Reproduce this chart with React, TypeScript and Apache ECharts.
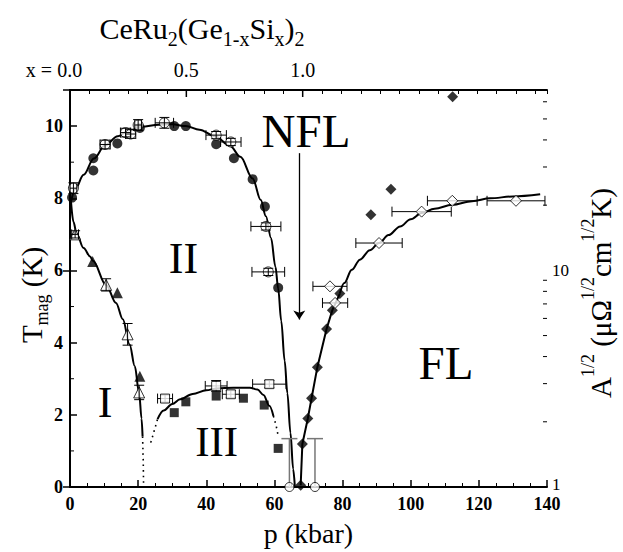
import React, { useEffect, useRef } from 'react';
import * as echarts from 'echarts';

const SERIF = 'Liberation Serif';

// ---- phase-boundary curves, [p (kbar), T (K)] ----
const curveII = [
  [0.3, 7.9], [1.5, 8.25], [4, 8.65], [7, 9.1], [10.3, 9.47], [14, 9.72], [17.5, 9.88],
  [21, 9.98], [26, 10.04], [30, 10.05], [34, 10.0], [38, 9.9], [42.5, 9.72], [47, 9.45],
  [50, 9.15], [53.6, 8.55], [56, 7.95], [57.5, 7.5], [59, 6.9], [60.3, 6.1], [61.1, 5.5],
  [62, 4.6], [63, 3.5], [63.8, 2.6], [64.7, 1.5], [65.5, 0.5], [66, 0],
];
const curveI = [
  [0.3, 7.9], [1, 7.35], [2, 7.0], [4, 6.62], [5.9, 6.39], [6.7, 6.27], [10.6, 5.6],
  [13.5, 5.1], [15.5, 4.65], [17.5, 3.95], [19, 3.35], [20.3, 2.6], [21, 1.9], [21.3, 1.4],
];
const curveIDotted = [[21.3, 1.4], [21.5, 0.7], [21.6, 0]];
const curveIII = [
  [25.7, 1.88], [27.5, 2.12], [30, 2.3], [32.3, 2.43], [36, 2.58], [40, 2.68], [43, 2.73],
  [48, 2.75], [52.8, 2.75], [55, 2.7], [56.8, 2.55], [58.5, 2.25], [59.7, 1.97],
];
const curveIIIDottedLeft = [[23.7, 1.23], [24.7, 1.55], [25.7, 1.88]];
const curveIIIDottedRight = [[59.7, 1.97], [60.5, 1.7], [61.1, 1.42]];
const curveFL = [
  [79.2, 5.36], [80.5, 5.65], [82.7, 6.02], [85.1, 6.3], [88, 6.56], [90.7, 6.76],
  [93.5, 6.98], [96.9, 7.22], [100, 7.42], [103.2, 7.59], [107, 7.71], [112.2, 7.82],
  [118, 7.92], [123.3, 8.0], [130, 8.05], [138, 8.11],
];
const nflArrow = [[67.3, 9.25], [67.3, 4.64]];

// ---- measured points ----
const filledCircles = [
  [0.6, 8.02], [6.85, 9.11], [6.85, 8.77], [13.9, 9.52], [20.5, 9.95], [30.6, 10.0],
  [34.0, 10.0], [42.9, 9.5], [48.1, 9.11], [53.6, 8.53], [57.2, 7.77], [61.1, 5.52],
];
// [p, T, dp, dT]
const openCircles = [
  [1.0, 8.28, 1.0, 0.15], [10.3, 9.49, 1.5, 0.12], [16.3, 9.82, 1.5, 0.12],
  [17.8, 9.78, 1.5, 0.12], [20.0, 10.03, 1.0, 0.15], [27.7, 10.09, 2.7, 0.15],
  [42.9, 9.75, 3.0, 0.1], [47.2, 9.56, 3.0, 0.1], [57.5, 7.22, 4.4, 0.1], [58.2, 5.96, 4.8, 0.1],
];
// [p, T, dT (upper)]
const openCirclesZero = [[64.4, 0, 1.34], [71.9, 0, 1.34]];
const filledTriangles = [[6.65, 6.25], [13.9, 5.38], [20.5, 3.07]];
const openTriangles = [
  [1.5, 7.0, 1.0, 0.1], [10.6, 5.6, 0, 0.17], [16.9, 4.23, 0, 0.3], [20.3, 2.62, 0, 0.2],
];
const filledSquares = [[30.6, 2.06], [34.0, 2.36], [42.9, 2.52], [50.9, 2.46], [57.0, 2.27], [61.1, 1.07]];
const openSquares = [
  [27.9, 2.45, 2.2, 0.1], [42.9, 2.8, 3.2, 0.15], [47.2, 2.57, 2.5, 0.1], [58.5, 2.85, 4.9, 0.1],
];
const filledDiamondsLine = [
  [67.7, 0.05], [68.2, 1.19], [69.8, 1.9], [70.9, 2.46], [72.6, 3.32], [75.3, 4.38], [77.0, 4.9], [79.2, 5.36],
];
const filledDiamonds = [[88.3, 7.54], [94.2, 8.25], [112.3, 10.81]];
const openDiamonds = [
  [76.3, 5.56, 5.0, 0], [77.8, 5.1, 3.7, 0], [90.7, 6.76, 6.8, 0], [103.2, 7.63, 8.7, 0],
  [112.2, 7.93, 7.3, 0], [130.9, 7.93, 8.5, 0],
];

// ---- axis tick values ----
const leftMinorTicks = [1, 3, 5, 7, 9];
const rightMinorTicks = [2, 3, 4, 5, 6, 7, 8, 9, 20, 30, 40, 50, 60];
const rightLabels = [1, 10];
const topMajorTicks = [0.5, 1.0];
const topLabels = [0, 0.5, 1.0];
const topLabelTexts = ['x = 0.0', '0.5', '1.0'];

const BLACK = '#000';

function ln(x1: number, y1: number, x2: number, y2: number, color = BLACK, w = 1) {
  return { type: 'line', shape: { x1, y1, x2, y2 }, style: { stroke: color, lineWidth: w } };
}

function errorBars(data: number[][], cap: number, z: number) {
  return {
    type: 'custom',
    xAxisIndex: 0,
    yAxisIndex: 0,
    silent: true,
    z,
    data,
    encode: { x: 0, y: 1 },
    renderItem: (_p: any, api: any) => {
      const x = api.value(0), y = api.value(1), dx = api.value(2), dy = api.value(3);
      const c = api.coord([x, y]);
      const ch: any[] = [];
      if (dx > 0) {
        const a = api.coord([x - dx, y])[0];
        const b = api.coord([x + dx, y])[0];
        ch.push(ln(a, c[1], b, c[1]), ln(a, c[1] - cap, a, c[1] + cap), ln(b, c[1] - cap, b, c[1] + cap));
      }
      if (dy > 0) {
        const a = api.coord([x, y - dy])[1];
        const b = api.coord([x, y + dy])[1];
        ch.push(ln(c[0], a, c[0], b), ln(c[0] - cap, a, c[0] + cap, a), ln(c[0] - cap, b, c[0] + cap, b));
      }
      return { type: 'group', children: ch };
    },
  };
}

function scatter(data: number[][], symbol: string, size: number, open: boolean, z = 5) {
  return {
    type: 'scatter',
    xAxisIndex: 0,
    yAxisIndex: 0,
    data: data.map((d) => [d[0], d[1]]),
    symbol,
    symbolSize: size,
    z,
    itemStyle: open
      ? { color: '#fff', borderColor: BLACK, borderWidth: 1 }
      : { color: BLACK, borderColor: BLACK, borderWidth: 0 },
    emphasis: { disabled: true },
  };
}

function curve(data: number[][], dotted = false, smooth: number | boolean = 0.35) {
  return {
    type: 'line',
    xAxisIndex: 0,
    yAxisIndex: 0,
    data,
    symbol: 'none',
    smooth,
    smoothMonotone: 'x',
    z: 3,
    lineStyle: dotted
      ? { color: BLACK, width: 1.6, type: [1.6, 4] }
      : { color: BLACK, width: 2 },
    emphasis: { disabled: true },
  };
}

export default function App() {
  const ref = useRef<HTMLDivElement>(null);

  useEffect(() => {
    if (!ref.current) return;
    const chart = echarts.init(ref.current, undefined, { renderer: 'svg' });

    const option: any = {
      animation: false,
      backgroundColor: '#fff',
      textStyle: { fontFamily: SERIF },
      grid: { left: 70, right: 76, top: 90, bottom: 64, containLabel: false },
      xAxis: [
        {
          type: 'value',
          position: 'bottom',
          min: 0,
          max: 140,
          interval: 20,
          splitLine: { show: false },
          axisLine: { lineStyle: { color: BLACK, width: 2 } },
          axisTick: { inside: true, length: 7, lineStyle: { color: BLACK, width: 1.5 } },
          minorTick: { show: true, splitNumber: 4, length: 4, lineStyle: { color: BLACK, width: 1 } },
          axisLabel: {
            color: BLACK, fontFamily: SERIF, fontSize: 18, fontWeight: 'bold', margin: 9, lineHeight: 16,
          },
          name: 'p (kbar)',
          nameLocation: 'middle',
          nameGap: 32,
          nameTextStyle: { color: BLACK, fontFamily: SERIF, fontSize: 28 },
        },
        {
          type: 'value',
          position: 'top',
          min: 0,
          max: 2.05,
          interval: 1 / 12,
          splitLine: { show: false },
          axisLine: { lineStyle: { color: BLACK, width: 2 } },
          axisTick: { inside: true, length: 4, lineStyle: { color: BLACK, width: 1 } },
          axisLabel: {
            color: BLACK,
            fontFamily: SERIF,
            fontSize: 20,
            margin: 10,
            showMinLabel: true,
            formatter: (v: number) => {
              for (let i = 0; i < topLabels.length; i++) {
                if (Math.abs(v - topLabels[i]) < 1e-6) {
                  return i === 0 ? '{z|' + topLabelTexts[i] + '}' : topLabelTexts[i];
                }
              }
              return '';
            },
            rich: { z: { fontFamily: SERIF, fontSize: 20, color: BLACK, padding: [0, 32, 0, 0] } },
          },
        },
      ],
      yAxis: [
        {
          type: 'value',
          position: 'left',
          min: 0,
          max: 11,
          interval: 2,
          splitLine: { show: false },
          axisLine: { lineStyle: { color: BLACK, width: 2 } },
          axisTick: { inside: true, length: 7, lineStyle: { color: BLACK, width: 1.5 } },
          axisLabel: {
            color: BLACK,
            fontFamily: SERIF,
            fontSize: 18,
            fontWeight: 'bold',
            margin: 7,
            formatter: (v: number) => (v % 2 === 0 && v <= 10 ? String(v) : ''),
          },
        },
        {
          type: 'log',
          logBase: 10,
          position: 'right',
          min: 1,
          max: 68,
          splitLine: { show: false },
          axisLine: { lineStyle: { color: BLACK, width: 2 } },
          axisTick: { inside: true, length: 7, lineStyle: { color: BLACK, width: 1.5 } },
          axisLabel: {
            color: BLACK,
            fontFamily: SERIF,
            fontSize: 17,
            margin: 5,
            formatter: (v: number) => {
              if (Math.abs(v - rightLabels[0]) < 1e-6) return '{low|' + rightLabels[0] + '}';
              if (Math.abs(v - rightLabels[1]) < 1e-6) return String(rightLabels[1]);
              return '';
            },
            rich: {
              low: { fontFamily: SERIF, fontSize: 17, color: BLACK, lineHeight: 14, padding: [0, 0, 5, 0] },
            },
          },
        },
      ],
      series: [
        // tick helpers
        {
          type: 'custom', xAxisIndex: 0, yAxisIndex: 1, silent: true, z: 10,
          data: rightMinorTicks.map((v) => [140, v]),
          renderItem: (_p: any, api: any) => {
            const pt = api.coord([api.value(0), api.value(1)]);
            return ln(pt[0] - 4, pt[1], pt[0], pt[1]);
          },
        },
        {
          type: 'custom', xAxisIndex: 0, yAxisIndex: 0, silent: true, z: 10,
          data: leftMinorTicks.map((v) => [0, v]),
          renderItem: (_p: any, api: any) => {
            const pt = api.coord([api.value(0), api.value(1)]);
            return ln(pt[0], pt[1], pt[0] + 4, pt[1]);
          },
        },
        {
          type: 'custom', xAxisIndex: 1, yAxisIndex: 0, silent: true, z: 10,
          data: topMajorTicks.map((v) => [v, 11]),
          renderItem: (_p: any, api: any) => {
            const pt = api.coord([api.value(0), api.value(1)]);
            return ln(pt[0], pt[1], pt[0], pt[1] + 7, BLACK, 1.5);
          },
        },
        // curves
        {
          ...curve(curveII),
          markLine: {
            silent: true,
            symbol: ['none', 'arrow'],
            symbolSize: 9,
            label: { show: false },
            lineStyle: { color: BLACK, width: 1.3, type: 'solid' },
            data: [[{ coord: nflArrow[0] }, { coord: nflArrow[1] }]],
          },
        },
        curve(curveI),
        curve(curveIDotted, true, false),
        curve(curveIII),
        curve(curveIIIDottedLeft, true, false),
        curve(curveIIIDottedRight, true, false),
        curve(curveFL),
        {
          type: 'line', xAxisIndex: 0, yAxisIndex: 0, data: filledDiamondsLine, symbol: 'none',
          z: 3, lineStyle: { color: BLACK, width: 2 }, emphasis: { disabled: true },
        },
        // grey error bars of the zero points
        {
          type: 'custom', xAxisIndex: 0, yAxisIndex: 0, silent: true, z: 4,
          data: openCirclesZero,
          renderItem: (_p: any, api: any) => {
            const x = api.value(0), y = api.value(1), dy = api.value(2);
            const c = api.coord([x, y]);
            const t = api.coord([x, y + dy])[1];
            return {
              type: 'group',
              children: [ln(c[0], c[1], c[0], t, '#777', 1.5), ln(c[0] - 8, t, c[0] + 8, t, '#777', 1.5)],
            };
          },
        },
        errorBars(openSquares, 5, 4),
        errorBars(openDiamonds, 5, 4),
        scatter(filledCircles, 'circle', 10, false),
        scatter(filledTriangles, 'triangle', 11, false),
        scatter(filledSquares, 'rect', 9, false),
        scatter(filledDiamondsLine, 'diamond', 11, false),
        scatter(filledDiamonds, 'diamond', 11, false),
        scatter(openCircles, 'circle', 10, true),
        scatter(openCirclesZero, 'circle', 9, true),
        scatter(openTriangles, 'triangle', 11, true),
        scatter(openSquares, 'rect', 9, true),
        scatter(openDiamonds, 'diamond', 11, true),
        errorBars(openCircles, 5, 6),
        errorBars(openTriangles, 5, 6),
      ],
      graphic: [
        {
          type: 'text', x: 202, y: 31, silent: true,
          style: {
            text: '{m|CeRu}{s|2}{m|(Ge}{s|1-x}{m|Si}{s|x}{m|)}{s|2}',
            align: 'center', verticalAlign: 'middle',
            rich: {
              m: { fontFamily: SERIF, fontSize: 30, lineHeight: 36, verticalAlign: 'top', fill: BLACK },
              s: { fontFamily: SERIF, fontSize: 20, lineHeight: 36, verticalAlign: 'bottom', fill: BLACK },
            },
          },
        },
        {
          type: 'text', x: 34, y: 295, rotation: Math.PI / 2, silent: true,
          style: {
            text: '{m|T}{s|mag}{m| (K)}',
            align: 'center', verticalAlign: 'middle',
            rich: {
              m: { fontFamily: SERIF, fontSize: 29, lineHeight: 34, verticalAlign: 'top', fill: BLACK },
              s: { fontFamily: SERIF, fontSize: 18, lineHeight: 34, verticalAlign: 'bottom', fill: BLACK },
            },
          },
        },
        {
          type: 'text', x: 597, y: 293, rotation: Math.PI / 2, silent: true,
          style: {
            text: '{m|A}{p|1/2}{m| (μΩ}{p|1/2}{m|cm}{p|1/2}{m|K)}',
            align: 'center', verticalAlign: 'middle',
            rich: {
              m: { fontFamily: SERIF, fontSize: 29, lineHeight: 37, verticalAlign: 'bottom', fill: BLACK },
              p: { fontFamily: SERIF, fontSize: 18, lineHeight: 37, verticalAlign: 'top', fill: BLACK },
            },
          },
        },
        { type: 'text', x: 306, y: 131, silent: true, style: { text: 'NFL', fontFamily: SERIF, fontSize: 47, fill: BLACK, align: 'center', verticalAlign: 'middle' } },
        { type: 'text', x: 183.5, y: 258, silent: true, style: { text: 'II', fontFamily: SERIF, fontSize: 44, fill: BLACK, align: 'center', verticalAlign: 'middle' } },
        { type: 'text', x: 105, y: 402.5, silent: true, style: { text: 'I', fontFamily: SERIF, fontSize: 44, fill: BLACK, align: 'center', verticalAlign: 'middle' } },
        { type: 'text', x: 216.7, y: 441, silent: true, style: { text: 'III', fontFamily: SERIF, fontSize: 43, fill: BLACK, align: 'center', verticalAlign: 'middle' } },
        { type: 'text', x: 446, y: 363, silent: true, style: { text: 'FL', fontFamily: SERIF, fontSize: 47, fill: BLACK, align: 'center', verticalAlign: 'middle' } },
      ],
    };

    chart.setOption(option);
    return () => chart.dispose();
  }, []);

  return (
    <div
      ref={ref}
      style={{ position: 'fixed', left: 0, top: 0, width: 623, height: 552, background: '#fff' }}
    />
  );
}
